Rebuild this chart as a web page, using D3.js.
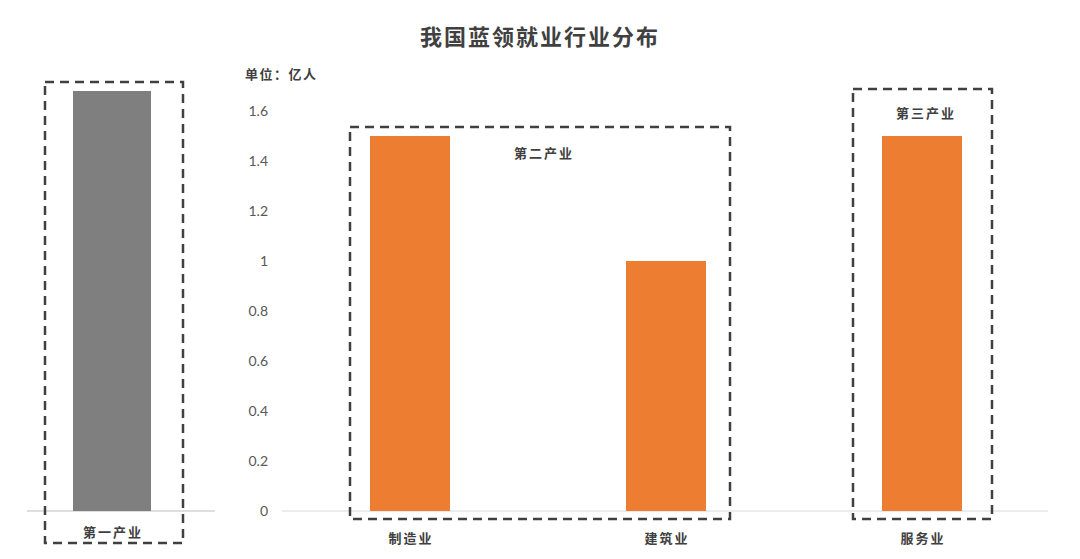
<!DOCTYPE html>
<html>
<head>
<meta charset="utf-8">
<script src="https://cdn.jsdelivr.net/npm/d3@7"></script>
<style>
body { margin: 0; background: #fff; }
svg text { font-family: "Noto Sans CJK SC", "Noto Sans", sans-serif; }
</style>
</head>
<body>
<div id="chart"></div>
<script>
var title = "我国蓝领就业行业分布";
var unitLabel = "单位：亿人";
var primaryCategory = ["第一产业"];
var primaryValues = [1.68];
var categories = ["制造业", "建筑业", "服务业"];
var values = [1.5, 1.0, 1.5];
var yTicks = [0, 0.2, 0.4, 0.6, 0.8, 1, 1.2, 1.4, 1.6];
var groupLabels = ["第二产业", "第三产业"];

var width = 1080, height = 559;
var svg = d3.select("#chart").append("svg")
    .attr("width", width)
    .attr("height", height);

var y = d3.scaleLinear().domain([0, 1.6]).range([511, 111]);

// title
svg.append("text")
    .attr("x", 540).attr("y", 45)
    .attr("text-anchor", "middle")
    .attr("font-size", 22).attr("font-weight", "bold")
    .attr("letter-spacing", 2)
    .attr("fill", "#404040")
    .text(title);

// left panel (primary industry)
var x0 = d3.scaleBand().domain(primaryCategory).range([27, 197]).paddingInner(0).paddingOuter(0.27);
svg.append("line")
    .attr("x1", 27).attr("x2", 215)
    .attr("y1", y(0)).attr("y2", y(0))
    .attr("stroke", "#bfbfbf").attr("stroke-width", 1);
svg.selectAll(".pbar").data(primaryValues).enter().append("rect")
    .attr("class", "pbar")
    .attr("x", function(d, i) { return x0(primaryCategory[i]) + (x0.bandwidth() - 78) / 2; })
    .attr("width", 78)
    .attr("y", function(d) { return y(d); })
    .attr("height", function(d) { return y(0) - y(d); })
    .attr("fill", "#7f7f7f");
svg.append("text")
    .attr("x", x0(primaryCategory[0]) + x0.bandwidth() / 2 + 1).attr("y", 537)
    .attr("text-anchor", "middle")
    .attr("font-size", 13).attr("font-weight", "bold")
    .attr("letter-spacing", 2)
    .attr("fill", "#404040")
    .text(primaryCategory[0]);

// main chart
var x = d3.scaleBand().domain(categories).range([282, 1050]).paddingInner(0.6875).paddingOuter(0.34375);

var yAxis = d3.axisLeft(y).tickValues(yTicks).tickSize(0).tickPadding(0)
    .tickFormat(function(d) { return String(d); });
var ga = svg.append("g").attr("transform", "translate(268,0)").call(yAxis);
ga.select(".domain").remove();
ga.selectAll("text")
    .attr("font-size", 14)
    .attr("fill", "#595959")
    .style("font-family", "Lato, 'Noto Sans', sans-serif");

svg.append("text")
    .attr("x", 245).attr("y", 79)
    .attr("font-size", 13).attr("font-weight", "bold")
    .attr("letter-spacing", 1.5)
    .attr("fill", "#404040")
    .text(unitLabel);

svg.append("line")
    .attr("x1", 282).attr("x2", 1048)
    .attr("y1", y(0)).attr("y2", y(0))
    .attr("stroke", "#d9d9d9").attr("stroke-width", 1);

svg.selectAll(".bar").data(values).enter().append("rect")
    .attr("class", "bar")
    .attr("x", function(d, i) { return x(categories[i]); })
    .attr("width", x.bandwidth())
    .attr("y", function(d) { return y(d); })
    .attr("height", function(d) { return y(0) - y(d); })
    .attr("fill", "#ed7d31");

svg.selectAll(".cat").data(categories).enter().append("text")
    .attr("class", "cat")
    .attr("x", function(d) { return x(d) + x.bandwidth() / 2 + 1; })
    .attr("y", 543)
    .attr("text-anchor", "middle")
    .attr("font-size", 13).attr("font-weight", "bold")
    .attr("letter-spacing", 2)
    .attr("fill", "#404040")
    .text(function(d) { return d; });

// dashed group boxes
var dash = function(sel) {
    return sel.attr("fill", "none")
        .attr("stroke", "#404040")
        .attr("stroke-width", 2.5)
        .attr("stroke-dasharray", "9,6");
};
var bw = x.bandwidth();
dash(svg.append("rect")
    .attr("x", x0(primaryCategory[0]) + x0.bandwidth() / 2 - 67)
    .attr("y", 82).attr("width", 138).attr("height", 461));
dash(svg.append("rect")
    .attr("x", x(categories[0]) - 20).attr("y", 127)
    .attr("width", x(categories[1]) + bw + 24 - (x(categories[0]) - 20))
    .attr("height", 392));
dash(svg.append("rect")
    .attr("x", x(categories[2]) - 29).attr("y", 89)
    .attr("width", bw + 59)
    .attr("height", 430));

svg.append("text")
    .attr("x", (x(categories[0]) + x(categories[1]) + bw) / 2 + 6).attr("y", 158)
    .attr("text-anchor", "middle")
    .attr("font-size", 13).attr("font-weight", "bold")
    .attr("letter-spacing", 2)
    .attr("fill", "#404040")
    .text(groupLabels[0]);
svg.append("text")
    .attr("x", x(categories[2]) + bw / 2 + 4).attr("y", 118)
    .attr("text-anchor", "middle")
    .attr("font-size", 13).attr("font-weight", "bold")
    .attr("letter-spacing", 2)
    .attr("fill", "#404040")
    .text(groupLabels[1]);
</script>
</body>
</html>
